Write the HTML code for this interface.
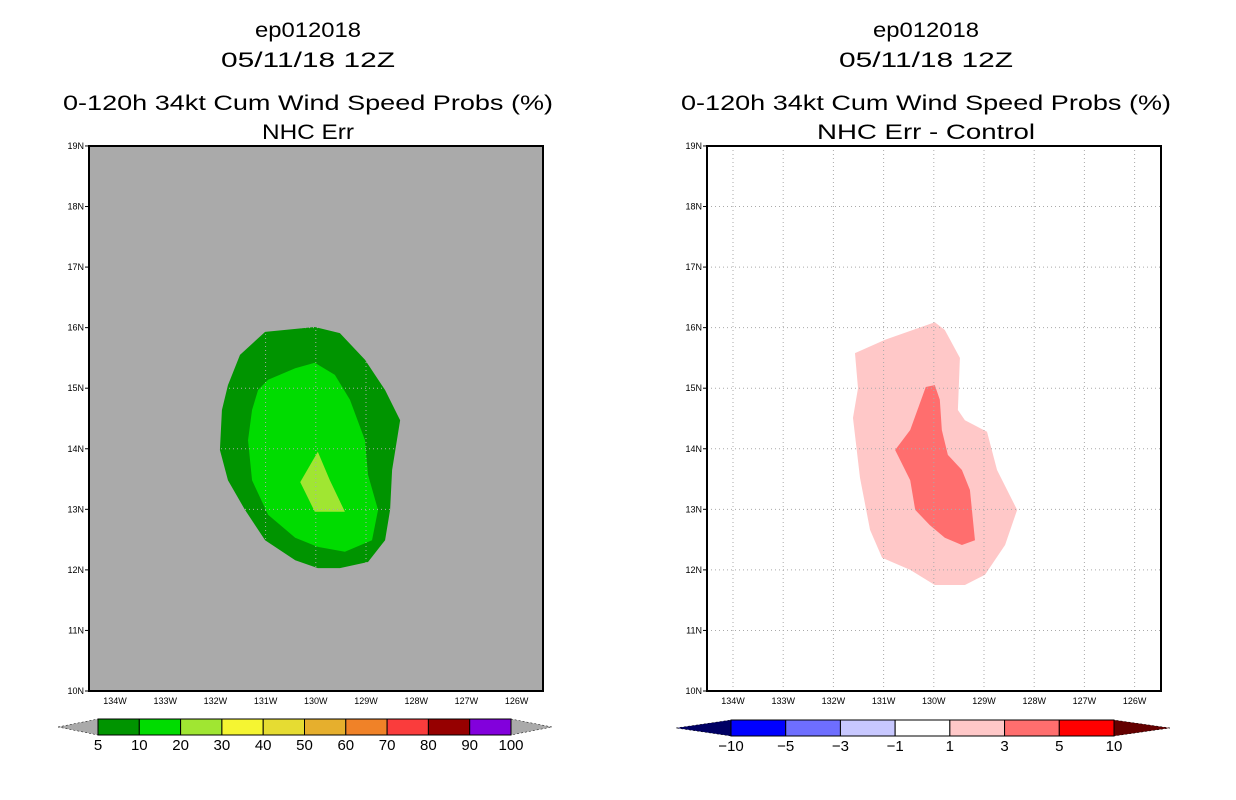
<!DOCTYPE html>
<html><head><meta charset="utf-8"><style>
html,body{margin:0;padding:0;background:#fff;width:1236px;height:800px;overflow:hidden}
svg{display:block}
text{font-family:"Liberation Sans",sans-serif}
</style></head><body>
<svg id="chart" width="1236" height="800" viewBox="0 0 1236 800" xmlns="http://www.w3.org/2000/svg"></svg>
<script>
const latTicks=[10,11,12,13,14,15,16,17,18,19];
const lonTicks=[134,133,132,131,130,129,128,127,126];
const left5Lon=[131.01,130.02,129.52,129.02,128.62,128.32,128.48,128.52,128.62,128.96,129.52,129.96,130.41,131.01,131.41,131.75,131.91,131.87,131.75,131.51];
const left5Lat=[15.93,16.01,15.91,15.47,14.97,14.47,13.65,12.99,12.49,12.13,12.03,12.03,12.16,12.49,12.99,13.48,13.98,14.64,15.05,15.55];
const left10Lon=[130.95,130.41,130.02,129.62,129.32,129.02,128.96,128.76,128.88,129.42,129.96,130.41,130.95,131.27,131.35,131.27,131.15];
const left10Lat=[15.14,15.33,15.42,15.22,14.81,14.14,13.57,12.99,12.49,12.30,12.38,12.53,12.91,13.48,14.14,14.64,14.97];
const left20Lon=[129.96,130.31,130.02,129.42,129.72];
const left20Lat=[13.95,13.45,12.96,12.96,13.48];
const right1Lon=[130.97,129.98,129.78,129.48,129.52,129.38,128.94,128.74,128.34,128.58,128.98,129.38,129.98,130.47,131.03,131.27,131.47,131.61,131.51,131.57];
const right1Lat=[15.80,16.09,15.96,15.50,14.64,14.47,14.28,13.65,12.99,12.41,11.92,11.75,11.75,12.00,12.20,12.66,13.52,14.51,15.00,15.58];
const right3Lon=[130.16,129.98,129.88,129.84,129.72,129.44,129.28,129.18,129.44,129.78,130.08,130.37,130.47,130.77,130.47];
const right3Lat=[15.02,15.05,14.81,14.31,13.90,13.65,13.32,12.49,12.41,12.53,12.74,12.99,13.48,13.98,14.31];
const leftLevels=["5","10","20","30","40","50","60","70","80","90","100"];
const leftColors=["#009400","#00dc00","#a0e632","#f5f532","#e6dc32","#e6af2d","#f08228","#fa3c3c","#960000","#8200dc"];
const rightLevels=["-10","-5","-3","-1","1","3","5","10"];
const rightColors=["#0000ff","#6e6eff","#c8c8ff","#ffffff","#ffc8c8","#ff6e6e","#ff0000"];

const NS="http://www.w3.org/2000/svg";
const svg=document.getElementById('chart');
function mk(tag,attrs,parent){const e=document.createElementNS(NS,tag);for(const k in attrs)e.setAttribute(k,attrs[k]);(parent||svg).appendChild(e);return e;}
const Y0=691,DY=60.56,DX=50.2;
function yS(lat){return Y0-(lat-10)*DY;}
function panel(off,bg,title2,sub2Len,polys,name){
  const g=mk('g',{});
  
  
  const xS=lon=>off+115+(134-lon)*DX;
  const cx=off+308;
  [["ep012018",37,106],["05/11/18 12Z",67,174],["0-120h 34kt Cum Wind Speed Probs (%)",110,490],[title2,139,sub2Len]].forEach((t,i)=>{
    const tx=mk('text',{x:cx,y:t[1],'text-anchor':'middle','font-size':21,fill:'#000',textLength:t[2],lengthAdjust:'spacingAndGlyphs'},g);
    tx.textContent=t[0];
    
    
  });
  const bgR=mk('rect',{x:off+89,y:146,width:454,height:545,fill:bg},g);
  
  
  polys.forEach(p=>{
    const pts=p.lon.map((lo,i)=>xS(lo)+','+yS(p.lat[i])).join(' ');
    const pg=mk('polygon',{points:pts,fill:p.color},g);
    
    
  });
  lonTicks.forEach(lo=>{
    const x=xS(lo);
    mk('line',{x1:x,y1:146,x2:x,y2:691,stroke:'#aaa','stroke-dasharray':'1,3','stroke-width':1},g);
    const t=mk('text',{x:x,y:704,'text-anchor':'middle','font-size':9,fill:'#000'},g);
    t.textContent=lo+'W';
    
    
  });
  latTicks.forEach(la=>{
    const y=yS(la);
    if(la>10&&la<19)mk('line',{x1:off+89,y1:y,x2:off+543,y2:y,stroke:'#aaa','stroke-dasharray':'1,3','stroke-width':1},g);
    mk('line',{x1:off+85,y1:y,x2:off+89,y2:y,stroke:'#000','stroke-width':1},g);
    const t=mk('text',{x:off+84,y:y+3,'text-anchor':'end','font-size':9,fill:'#000'},g);
    t.textContent=la+'N';
    
    
  });
  mk('rect',{x:off+89,y:146,width:454,height:545,fill:'none',stroke:'#000','stroke-width':2},g);
}
panel(0,'#aaaaaa','NHC Err',92,[
  {lon:left5Lon,lat:left5Lat,color:leftColors[0],name:'contour-5pct'},
  {lon:left10Lon,lat:left10Lat,color:leftColors[1],name:'contour-10pct'},
  {lon:left20Lon,lat:left20Lat,color:leftColors[2],name:'contour-20pct'}],'left-panel');
panel(618,'#ffffff','NHC Err - Control',218,[
  {lon:right1Lon,lat:right1Lat,color:rightColors[4],name:'diff-1to3'},
  {lon:right3Lon,lat:right3Lat,color:rightColors[5],name:'diff-3to5'}],'right-panel');

function colorbar(x0,x1,tipL,tipR,y0,h,colors,levels,endL,endR,name){
  const g=mk('g',{});
  
  
  const w=(x1-x0)/colors.length;
  mk('polygon',{points:`${tipL},${y0+h/2} ${x0},${y0} ${x0},${y0+h}`,fill:endL,stroke:'#000','stroke-width':0.5,'stroke-dasharray':'2,2'},g);
  mk('polygon',{points:`${tipR},${y0+h/2} ${x1},${y0} ${x1},${y0+h}`,fill:endR,stroke:'#000','stroke-width':0.5,'stroke-dasharray':'2,2'},g);
  colors.forEach((c,i)=>{
    const r=mk('rect',{x:x0+i*w,y:y0,width:w,height:h,fill:c,stroke:'#000','stroke-width':1},g);
    
    
  });
  levels.forEach((l,i)=>{
    const t=mk('text',{x:x0+i*w,y:y0+h+15,'text-anchor':'middle','font-size':15,fill:'#000'},g);
    t.textContent=l.replace('-','\u2212');
    
    
  });
}
colorbar(98,511,58,552,719,16,leftColors,leftLevels,'#aaaaaa','#aaaaaa','left-colorbar');
colorbar(731,1114,676,1170,720,16,rightColors,rightLevels,'#000064','#640000','right-colorbar');
</script>
</body></html>
